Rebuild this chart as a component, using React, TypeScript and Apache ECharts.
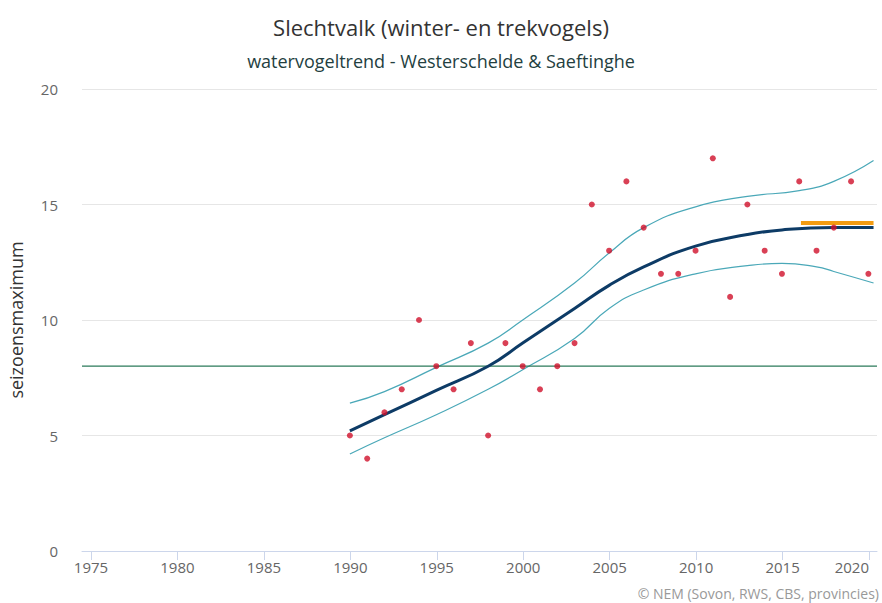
import React, { useEffect, useRef } from "react";
import * as echarts from "echarts";

const years = [1990,1991,1992,1993,1994,1995,1996,1997,1998,1999,2000,2001,2002,2003,2004,2005,2006,2007,2008,2009,2010,2011,2012,2013,2014,2015,2016,2017,2018,2019,2020];
const counts = [5,4,6,7,10,8,7,9,5,9,8,7,8,9,15,13,16,14,12,12,13,17,11,15,13,12,16,13,14,16,12];

const trendYears = [1990,1992,1995,1998,2000,2003,2005,2007,2010,2013,2015,2018,2020.3];
const trendValues = [5.2,5.9,6.95,8.0,9.0,10.5,11.5,12.3,13.2,13.7,13.9,14.0,14.0];

const upperYears = [1990,1992,1995,1998,2000,2003,2005,2007,2010,2013,2016,2018,2020.3];
const upperValues = [6.4,6.9,7.95,9.0,10.0,11.6,12.9,14.0,14.9,15.35,15.6,16.0,16.9];

const lowerYears = [1990,1992,1995,1998,2000,2003,2005,2007,2010,2013,2015,2017,2018,2020.3];
const lowerValues = [4.2,4.9,5.9,7.0,7.85,9.2,10.5,11.3,12.0,12.35,12.45,12.3,12.1,11.6];

const referenceLevel = 8;
const recentYears = [2016.1, 2020.3];
const recentLevel = 14.2;

const xTickMin = 1975;
const xTickMax = 2020;
const xRange = [1974.5, 2020.5];

const title = "Slechtvalk (winter- en trekvogels)";
const subtitle = "watervogeltrend - Westerschelde & Saeftinghe";
const yName = "seizoensmaximum";
const credit = "© NEM (Sovon, RWS, CBS, provincies)";

const FONT = "'Open Sans', 'DejaVu Sans', sans-serif";

export default function App() {
  const ref = useRef<HTMLDivElement>(null);
  useEffect(() => {
    const chart = echarts.init(ref.current!, null, { renderer: "svg" });
    const zip = (xs: number[], ys: number[]) => xs.map((x, i) => [x, ys[i]]);
    chart.setOption({
      animation: false,
      backgroundColor: "#ffffff",
      title: [
        {
          text: title,
          left: "center",
          top: 11,
          textStyle: { fontFamily: FONT, fontSize: 22, fontWeight: "normal", color: "#333333" },
        },
        {
          text: subtitle,
          left: "center",
          top: 47,
          textStyle: { fontFamily: FONT, fontSize: 18, fontWeight: "normal", color: "#243f3f" },
        },
      ],
      graphic: [
        {
          type: "text",
          right: 3,
          top: 586,
          style: { text: credit, fontFamily: FONT, fontSize: 14, fill: "#999999" },
        },
      ],
      grid: [
        { left: 82, right: 5, top: 89, bottom: 52, containLabel: false, outerBoundsMode: "none" },
        { left: 91, right: 13, top: 89, bottom: 52, containLabel: false, outerBoundsMode: "none" },
      ],
      xAxis: [
        {
          type: "value",
          gridIndex: 0,
          min: xRange[0],
          max: xRange[1],
          axisLine: { show: true, lineStyle: { color: "#ccd6eb" } },
          axisTick: { show: false },
          splitLine: { show: false },
          axisLabel: { show: false },
        },
        {
          type: "value",
          gridIndex: 1,
          min: xTickMin,
          max: xTickMax,
          interval: 5,
          axisLine: { show: false },
          axisTick: { show: true, length: 9, lineStyle: { color: "#ccd6eb" } },
          splitLine: { show: false },
          axisLabel: {
            fontFamily: FONT,
            fontSize: 15,
            color: "#666666",
            margin: 8,
            hideOverlap: false,
            alignMaxLabel: "right",
            formatter: (v: number) => String(v),
          },
        },
      ],
      yAxis: [
        {
          type: "value",
          gridIndex: 0,
          min: 0,
          max: 20,
          interval: 5,
          name: yName,
          nameLocation: "middle",
          nameGap: 57,
          nameTextStyle: { fontFamily: FONT, fontSize: 18, color: "#333333" },
          axisLine: { show: false },
          axisTick: { show: false },
          splitLine: { lineStyle: { color: "#e6e6e6" } },
          axisLabel: { fontFamily: FONT, fontSize: 15, color: "#666666", margin: 24 },
        },
        {
          type: "value",
          gridIndex: 1,
          min: 0,
          max: 20,
          show: false,
          splitLine: { show: false },
        },
      ],
      series: [
        {
          type: "line",
          data: zip(upperYears, upperValues),
          smooth: true,
          symbol: "none",
          lineStyle: { color: "#4aa8b8", width: 1.2 },
          z: 2,
        },
        {
          type: "line",
          data: zip(lowerYears, lowerValues),
          smooth: true,
          symbol: "none",
          lineStyle: { color: "#4aa8b8", width: 1.2 },
          z: 2,
        },
        {
          type: "line",
          data: zip(trendYears, trendValues),
          smooth: true,
          symbol: "none",
          lineStyle: { color: "#0d3b66", width: 3 },
          z: 3,
        },
        {
          type: "line",
          data: [[xRange[0], referenceLevel], [xRange[1], referenceLevel]],
          symbol: "none",
          lineStyle: { color: "#2b7a5a", width: 1.3 },
          z: 2,
        },
        {
          type: "line",
          data: recentYears.map((y) => [y, recentLevel]),
          symbol: "none",
          lineStyle: { color: "#f39c12", width: 4 },
          z: 4,
        },
        {
          type: "scatter",
          data: zip(years, counts),
          symbol: "circle",
          symbolSize: 6,
          itemStyle: { color: "#d0102a" },
          z: 5,
        },
      ],
    });
    return () => chart.dispose();
  }, []);
  return <div ref={ref} style={{ width: 882, height: 603, position: "fixed", left: 0, top: 0 }} />;
}
